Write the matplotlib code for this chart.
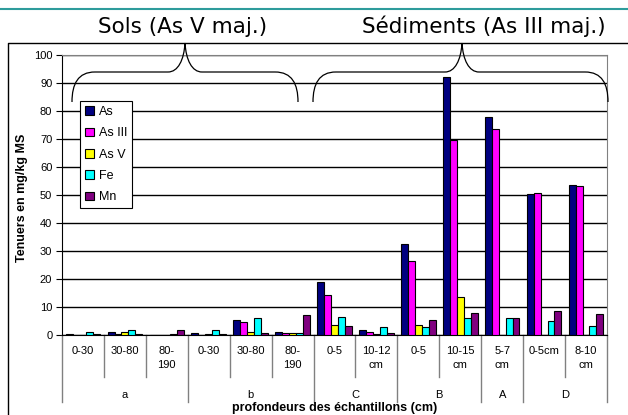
import matplotlib
matplotlib.use('Agg')
import matplotlib.pyplot as plt
import matplotlib.transforms as mtransforms
from matplotlib.patches import Patch, PathPatch
from matplotlib.path import Path
import numpy as np

plt.rcParams['font.family'] = ['Liberation Sans', 'DejaVu Sans']

# depth of each sample, grouped by site
depths = ['0-30', '30-80', '80-\n190', '0-30', '30-80', '80-\n190',
          '0-5', '10-12\ncm', '0-5', '10-15\ncm', '5-7\ncm', '0-5cm', '8-10\ncm']
sites = ['a', 'b', 'C', 'B', 'A', 'D']
site_sizes = [3, 3, 2, 2, 1, 2]

series = ['As', 'As III', 'As V', 'Fe', 'Mn']
as_tot = [0.2, 1.0, 0.1, 0.6, 5.4, 1.1, 19.0, 1.7, 32.4, 92.0, 77.7, 50.2, 53.5]
as_3 = [0.1, 0.2, 0.1, 0.1, 4.6, 0.6, 14.4, 1.0, 26.5, 69.5, 73.5, 50.6, 53.1]
as_5 = [0.1, 1.0, 0.1, 0.5, 1.0, 0.6, 3.6, 0.2, 3.6, 13.6, 0.0, 0.0, 0.0]
fe = [0.9, 1.8, 0.2, 1.8, 6.1, 0.6, 6.5, 2.7, 2.7, 6.0, 6.0, 5.0, 3.2]
mn = [0.2, 0.2, 1.8, 0.3, 0.6, 7.1, 3.2, 0.6, 5.3, 7.9, 6.0, 8.5, 7.5]
colors = ['#000080', '#FF00FF', '#FFFF00', '#00FFFF', '#800080']

W, H = 628, 415
fig = plt.figure(figsize=(W / 100, H / 100), dpi=100)
ax = fig.add_axes([62 / W, 1 - 335 / H, 545 / W, 280 / H])

x = np.arange(len(depths))
bw = 0.165
for i, (name, vals, c) in enumerate(zip(series, [as_tot, as_3, as_5, fe, mn], colors)):
    ax.bar(x + (i - 2) * bw, vals, bw, color=c, edgecolor='black',
           linewidth=0.8, label=name, zorder=3)

ax.set_xlim(-0.5, len(depths) - 0.5)
ax.set_ylim(0, 100)
ax.set_yticks(range(0, 101, 10))
ax.set_xticks([])
ax.yaxis.grid(True, color='black', lw=1)
ax.set_axisbelow(True)
ax.spines['top'].set_color('#808080')
ax.spines['right'].set_color('#808080')
ax.spines['left'].set_color('black')
ax.spines['bottom'].set_color('black')
ax.tick_params(axis='y', direction='out', length=4, labelsize=8, pad=3)

handles = [Patch(facecolor=c, edgecolor='black', linewidth=0.8) for c in colors]
leg = ax.legend(handles, series, loc='upper left',
                bbox_to_anchor=(80 / W, 1 - 101 / H), bbox_transform=fig.transFigure,
                fancybox=False, framealpha=1, edgecolor='black', borderpad=0.4,
                handlelength=0.7, handleheight=0.7, handletextpad=0.4,
                labelspacing=0.75, borderaxespad=0, prop={'size': 9})
leg.get_frame().set_linewidth(0.8)

# overlay in pixel units for the frame, braces and category labels
ov = fig.add_axes([0, 0, 1, 1])
ov.set_xlim(0, W)
ov.set_ylim(H, 0)
ov.axis('off')
ov.patch.set_visible(False)

ov.plot([0, W], [9, 9], color='#2E9C9C', lw=1.5)
ov.plot([8, 8, W], [H, 43, 43], color='black', lw=1)


def brace(x0, xc, x1):
    verts = [(x0, 102), (x0, 84), (x0 + 6, 72), (x0 + 23, 72),
             (xc - 17, 72),
             (xc - 7, 72), (xc - 1, 60), (xc, 43),
             (xc + 1, 60), (xc + 7, 72), (xc + 17, 72),
             (x1 - 23, 72),
             (x1 - 6, 72), (x1, 84), (x1, 102)]
    codes = [Path.MOVETO, Path.CURVE4, Path.CURVE4, Path.CURVE4,
             Path.LINETO,
             Path.CURVE4, Path.CURVE4, Path.CURVE4,
             Path.CURVE4, Path.CURVE4, Path.CURVE4,
             Path.LINETO,
             Path.CURVE4, Path.CURVE4, Path.CURVE4]
    ov.add_patch(PathPatch(Path(verts, codes), fill=False, lw=0.9, edgecolor='black'))


brace(72, 185, 298)
brace(313, 462, 608)
ov.text(183, 33, 'Sols (As V maj.)', family='DejaVu Sans', fontsize=15.5,
        ha='center', va='baseline')
ov.text(606, 33, 'Sédiments (As III maj.)', family='DejaVu Sans', fontsize=15.5,
        ha='right', va='baseline')

# two-level category axis
tr = mtransforms.blended_transform_factory(ax.transData, ov.transData)
for i, d in enumerate(depths):
    ax.text(i, 346, d, transform=tr, ha='center', va='top', fontsize=8,
            linespacing=1.45)

bounds = np.cumsum([0] + site_sizes)
for k in range(len(depths) + 1):
    y_end = 402 if k in bounds else 377
    ax.plot([k - 0.5, k - 0.5], [335, y_end], transform=tr, color='#808080',
            lw=1, clip_on=False)
for s, a, b in zip(sites, bounds[:-1], bounds[1:]):
    ax.text((a + b - 1) / 2, 395, s, transform=tr, ha='center', va='center', fontsize=8)

ov.text(335, 408, 'profondeurs des échantillons (cm)', fontsize=9,
        fontweight='bold', ha='center', va='center')
ov.text(22, 198, 'Tenuers en mg/kg MS', fontsize=9, fontweight='bold',
        rotation=90, ha='center', va='center')

fig.savefig('out.png', dpi=100)
